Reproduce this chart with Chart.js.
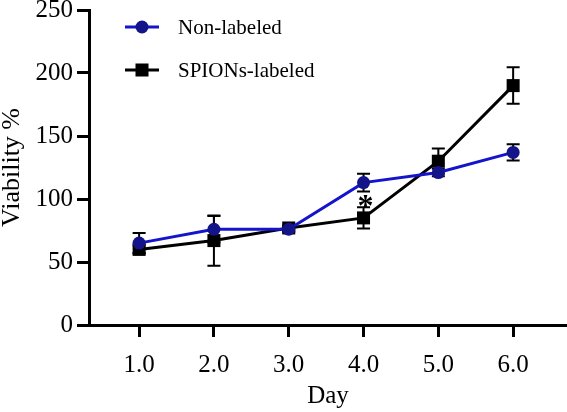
<!DOCTYPE html>
<html>
<head>
<meta charset="utf-8">
<script src="https://cdn.jsdelivr.net/npm/chart.js@4/dist/chart.umd.min.js"></script>
<style>
  html, body { margin: 0; padding: 0; background: #fff; }
  #wrap { width: 567px; height: 412px; }
</style>
</head>
<body>
<div id="wrap"><canvas id="c" width="567" height="412"></canvas></div>
<script>
// ---- data ----
const days = [1, 2, 3, 4, 5, 6];
const dayTicks = [1, 2, 3, 4, 5, 6];
const viabilityTicks = [0, 50, 100, 150, 200, 250];
const nonLabeled = [65, 76, 76, 113, 121, 137];
const nonLabeledSD = [8, 10.5, 2, 7, 3, 6.5];
const spionsLabeled = [60, 67, 77, 85, 130, 190];
const spionsLabeledSD = [3, 20, 2, 8.5, 10, 14.5];
const significance = [{ day: 4, value: 99, mark: '*' }];
const seriesNames = ['Non-labeled', 'SPIONs-labeled'];

const FONT = "'Liberation Serif', 'Times New Roman', serif";
const BLUE = '#1414cc';
const NAVY = '#14148a';

const errorBars = {
  id: 'errorBars',
  beforeDatasetsDraw(chart) {
    const ctx = chart.ctx;
    const xs = chart.scales.x, ys = chart.scales.y;
    chart.data.datasets.forEach(ds => {
      ctx.save();
      ctx.strokeStyle = '#000';
      ctx.lineWidth = 2;
      ds.sd.forEach((s, i) => {
        const x = xs.getPixelForValue(days[i]);
        const yt = ys.getPixelForValue(ds.data[i].y + s);
        const yb = ys.getPixelForValue(ds.data[i].y - s);
        ctx.beginPath();
        ctx.moveTo(x, yt); ctx.lineTo(x, yb);
        ctx.moveTo(x - 6.5, yt); ctx.lineTo(x + 6.5, yt);
        ctx.moveTo(x - 6.5, yb); ctx.lineTo(x + 6.5, yb);
        ctx.stroke();
      });
      ctx.restore();
    });
  },
  afterDatasetsDraw(chart) {
    const ctx = chart.ctx;
    const xs = chart.scales.x, ys = chart.scales.y;
    ctx.save();
    ctx.fillStyle = '#000';
    ctx.font = "bold 32px " + FONT;
    ctx.textAlign = 'center';
    ctx.textBaseline = 'middle';
    significance.forEach(s => {
      ctx.fillText(s.mark, xs.getPixelForValue(s.day) + 2, ys.getPixelForValue(s.value) + 7);
    });
    ctx.restore();
  }
};

const customLegend = {
  id: 'customLegend',
  afterDraw(chart) {
    const ctx = chart.ctx;
    const items = chart.data.datasets;
    const rows = [27, 70];
    items.forEach((ds, i) => {
      const y = rows[i];
      ctx.save();
      ctx.strokeStyle = ds.borderColor;
      ctx.lineWidth = 3;
      ctx.beginPath();
      ctx.moveTo(125, y); ctx.lineTo(159, y);
      ctx.stroke();
      ctx.fillStyle = ds.pointBackgroundColor;
      if (ds.pointStyle === 'rect') {
        ctx.fillRect(142 - 6.5, y - 6.5, 13, 13);
      } else {
        ctx.beginPath();
        ctx.arc(142, y, 6.5, 0, Math.PI * 2);
        ctx.fill();
      }
      ctx.fillStyle = '#000';
      ctx.font = "21px " + FONT;
      ctx.textAlign = 'left';
      ctx.textBaseline = 'middle';
      ctx.fillText(ds.label, 178, y + 1);
      ctx.restore();
    });
  }
};

const toPts = arr => arr.map((v, i) => ({ x: days[i], y: v }));

new Chart(document.getElementById('c'), {
  type: 'line',
  data: {
    datasets: [
      {
        label: seriesNames[0],
        data: toPts(nonLabeled),
        sd: nonLabeledSD,
        borderColor: BLUE,
        backgroundColor: NAVY,
        pointBackgroundColor: NAVY,
        pointBorderColor: NAVY,
        pointBorderWidth: 0,
        pointStyle: 'circle',
        pointRadius: 6.5,
        borderWidth: 3,
        tension: 0,
        clip: false
      },
      {
        label: seriesNames[1],
        data: toPts(spionsLabeled),
        sd: spionsLabeledSD,
        borderColor: '#000',
        backgroundColor: '#000',
        pointBackgroundColor: '#000',
        pointBorderColor: '#000',
        pointBorderWidth: 0,
        pointStyle: 'rect',
        pointRadius: 9.2,
        borderWidth: 3,
        tension: 0,
        clip: false
      }
    ]
  },
  options: {
    responsive: false,
    animation: false,
    events: [],
    layout: { autoPadding: false, padding: { top: 10, right: 0, left: 0, bottom: 0 } },
    plugins: { legend: { display: false }, tooltip: { enabled: false } },
    scales: {
      x: {
        type: 'linear',
        min: 0.33,
        max: 6.72,
        afterBuildTicks: s => { s.ticks = dayTicks.map(v => ({ value: v })); },
        afterFit: s => { s.height = 87; s.paddingRight = 0; s.paddingLeft = 0; },
        border: { display: true, color: '#000', width: 3 },
        grid: { drawOnChartArea: false, tickLength: 12, tickColor: '#000', tickWidth: 3 },
        ticks: {
          color: '#000',
          font: { family: FONT, size: 25 },
          padding: 13,
          maxRotation: 0,
          callback: v => v.toFixed(1)
        },
        title: {
          display: true,
          text: 'Day',
          color: '#000',
          font: { family: FONT, size: 25 },
          padding: { top: 0, bottom: 1 }
        }
      },
      y: {
        min: 0,
        max: 250,
        afterBuildTicks: s => { s.ticks = viabilityTicks.map(v => ({ value: v })); },
        afterFit: s => { s.width = 89; s.paddingTop = 0; s.paddingBottom = 0; },
        border: { display: true, color: '#000', width: 3 },
        grid: { drawOnChartArea: false, tickLength: 12, tickColor: '#000', tickWidth: 3 },
        ticks: {
          color: '#000',
          font: { family: FONT, size: 25 },
          padding: 4
        },
        title: {
          display: true,
          text: 'Viability %',
          color: '#000',
          font: { family: FONT, size: 26, lineHeight: 0.9 },
          padding: { top: 0, bottom: 0 }
        }
      }
    }
  },
  plugins: [errorBars, customLegend]
});
</script>
</body>
</html>
